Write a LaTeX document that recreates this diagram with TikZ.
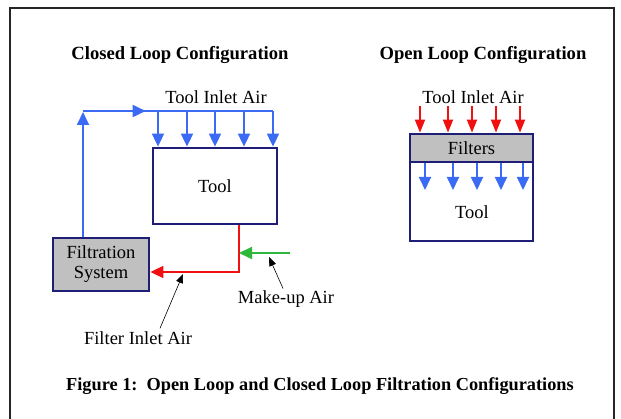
\documentclass[tikz,border=0pt]{standalone}
\usepackage{fontspec}
\setmainfont{Liberation Serif}
\usetikzlibrary{arrows.meta,calc,decorations.markings}
\definecolor{flowblue}{HTML}{3B6BF5}
\definecolor{flowred}{HTML}{F01010}
\definecolor{flowgreen}{HTML}{2DB83A}
\definecolor{boxnavy}{HTML}{1E1E78}
\definecolor{boxgray}{HTML}{C0C0C0}
\tikzset{
  box/.style={draw=boxnavy,line width=2.8pt,inner sep=0pt,font=\fontsize{18.5}{20}\selectfont,align=center},
  lbl/.style={inner sep=0pt,font=\fontsize{18.5}{20}\selectfont},
  ttl/.style={inner sep=0pt,font=\bfseries\fontsize{18.6}{20}\selectfont},
  captl/.style={inner sep=0pt,font=\bfseries\fontsize{18.3}{20}\selectfont},
  tipbig/.style={-{Triangle[length=13pt,width=12pt]}},
  bluel/.style={draw=flowblue,line width=1.8pt},
  redl/.style={draw=flowred,line width=1.8pt},
  greenl/.style={draw=flowgreen,line width=1.8pt},
  note/.style={draw=black,line width=0.6pt,-{Triangle[length=9pt,width=7pt]}},
  midarrow/.style={postaction={decorate},decoration={markings,mark=at position #1 with {\arrow{Triangle[length=13pt,width=12pt,fill=flowblue]}}}}
}
\begin{document}
\begin{tikzpicture}[x=1pt,y=-1pt]
\useasboundingbox (0,0) rectangle (621,419);
% frame
\draw[line width=1.2pt,black!85] (10,425) -- (10,8) -- (614,8) -- (614,425);
% titles
\node[ttl] (t1) at (180,55) {Closed Loop Configuration};
\node[ttl] (t2) at (483,55) {Open Loop Configuration};
\node[captl] (cap) at (320,386) {Figure 1:\ \ Open Loop and Closed Loop Filtration Configurations};
% ---------------- closed loop ----------------
\node[box,minimum width=124pt,minimum height=76pt] (tool) at (215,186) {Tool};
\node[box,fill=boxgray,minimum width=96pt,minimum height=53pt] (filt) at (101,264.5) {Filtration\\System};
\node[lbl] (tia1) at (216,97) {Tool Inlet Air};
\coordinate (up) at (83,111);
\coordinate (topend) at (273,111);
\draw[bluel,tipbig] (filt.north -| up) -- ($(up)+(0,1)$);
\draw[bluel,midarrow=0.33] (up) -- (topend);
\foreach \x in {158,187,215,244,273}{
  \draw[bluel,tipbig] (\x,111) -- (tool.north -| \x,0);
}
\coordinate (rc) at (239,272);
\draw[redl,tipbig] (tool.south -| rc) -- (rc) -- (filt.east |- rc);
\coordinate (gs) at (290,253);
\draw[greenl,tipbig] (gs) -- (gs -| rc);
\node[lbl] (mk) at (286,299) {Make-up Air};
\node[lbl] (fi) at (138,338) {Filter Inlet Air};
\coordinate (mkt) at (269,257);
\coordinate (fit) at (183,274);
\draw[note] ($(mk.north)+(-3,-2)$) -- (mkt);
\draw[note] ($(fi.north)+(22,-3)$) -- (fit);
% ---------------- open loop ----------------
\node[box,minimum width=123pt,minimum height=107pt] (obox) at (471.5,187.5) {};
\node[box,fill=boxgray,minimum width=123pt,minimum height=28pt,anchor=north] (filters) at (obox.north) {Filters};
\node[lbl] (otool) at (472,212) {Tool};
\node[lbl] (tia2) at (473,97) {Tool Inlet Air};
\foreach \x in {420,448,472,496,520}{
  \draw[redl,-{Triangle[length=13pt,width=10pt]}] (\x,106) -- (filters.north -| \x,0);
}
\foreach \x in {425,453,477,501,523}{
  \draw[bluel,tipbig] (filters.south -| \x,0) -- (\x,190);
}
\end{tikzpicture}
\end{document}
